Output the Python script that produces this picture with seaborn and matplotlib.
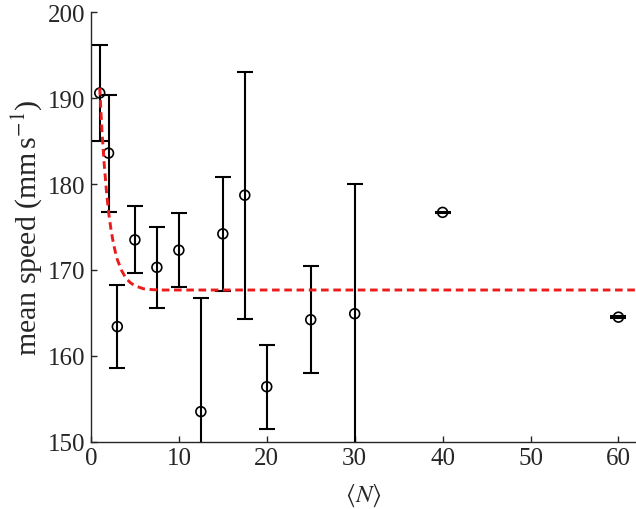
import matplotlib
matplotlib.use("Agg")
import matplotlib.pyplot as plt
import pandas as pd
import seaborn as sns

# group size <N> and mean speed with error bars
group_size = [1, 2, 3, 5, 7.5, 10, 12.5, 15, 17.5, 20, 25, 30, 40, 60]
mean_speed = [190.6, 183.6, 163.4, 173.5, 170.3, 172.3, 153.5, 174.2, 178.7,
              156.4, 164.2, 164.9, 176.7, 164.5]
speed_err = [5.6, 6.8, 4.8, 3.9, 4.7, 4.3, 13.2, 6.6, 14.4, 4.9, 6.2, 15.1, 0.1, 0.1]

# fitted curve
fit_x = [1, 1.25, 1.5, 1.75, 2, 2.25, 2.5, 2.75, 3, 3.5, 4, 4.5, 5, 6, 7, 8, 62]
fit_y = [191.2, 186.2, 182.4, 179.3, 176.8, 174.9, 173.4, 172.2, 171.2, 169.9,
         169.0, 168.5, 168.15, 167.8, 167.7, 167.66, 167.66]

sns.set_style("ticks")
plt.rcParams["font.family"] = ["Liberation Serif", "DejaVu Serif"]
plt.rcParams["mathtext.fontset"] = "stix"

df = pd.DataFrame({"N": group_size, "speed": mean_speed, "err": speed_err})
fit = pd.DataFrame({"N": fit_x, "speed": fit_y})

fig = plt.figure(figsize=(6.36, 5.10), dpi=100)
ax = fig.add_axes([0.143, 0.132, 0.857, 0.842])

ax.errorbar(df["N"], df["speed"], yerr=df["err"], fmt="none", ecolor="black",
            elinewidth=1.5, capsize=6, capthick=1.5, zorder=2)
sns.scatterplot(data=df, x="N", y="speed", ax=ax, marker="o", s=50,
                facecolor="none", edgecolor="black", linewidth=1.2, zorder=3)
sns.lineplot(data=fit, x="N", y="speed", ax=ax, color="#ec1c1c", lw=2.1,
             linestyle=(0, (2.6, 1.6)), zorder=4)

ax.set_xlim(0, 62)
ax.set_ylim(150, 200)
ax.set_xticks([0, 10, 20, 30, 40, 50, 60])
ax.set_yticks([150, 160, 170, 180, 190, 200])
ax.tick_params(direction="in", length=4, width=1.0, labelsize=18, pad=4)
for side in ["top", "right"]:
    ax.spines[side].set_visible(False)
for side in ["left", "bottom"]:
    ax.spines[side].set_linewidth(1.0)

ax.set_xlabel(r"$\langle N \rangle$", fontsize=18, labelpad=9)
ax.set_ylabel(r"mean speed (mm$\,$s$^{-1}$)", fontsize=21.5, labelpad=3)

fig.savefig("out.png", dpi=100)
